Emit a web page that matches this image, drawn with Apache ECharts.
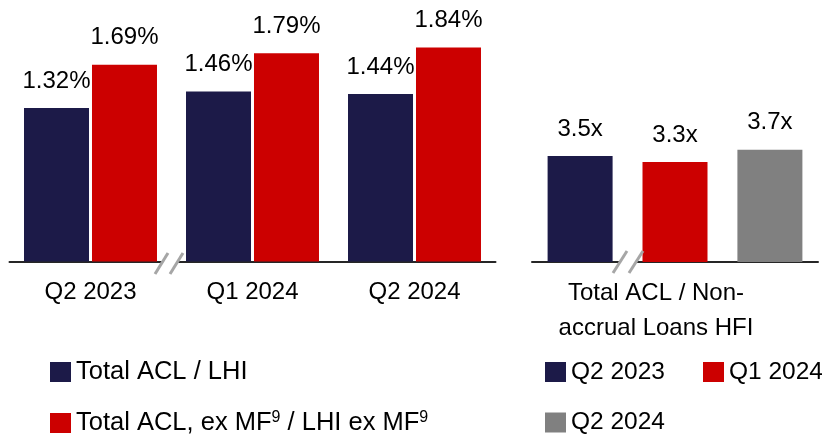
<!DOCTYPE html>
<html>
<head>
<meta charset="utf-8">
<script src="https://cdn.jsdelivr.net/npm/echarts@6/dist/echarts.min.js"></script>
<style>
html,body{margin:0;padding:0;background:#fff;}
#c{width:822px;height:439px;}
</style>
</head>
<body>
<div id="c"></div>
<script>
const categories = ['Q2 2023', 'Q1 2024', 'Q2 2024'];
const aclLhi = [1.32, 1.46, 1.44];
const aclExMf = [1.69, 1.79, 1.84];
const coverageCategory = ['Total ACL / Non-\naccrual Loans HFI'];
const coverageQ2_2023 = [3.5];
const coverageQ1_2024 = [3.3];
const coverageQ2_2024 = [3.7];
const leftNames = ['Total ACL / LHI', 'Total ACL, ex MF⁹ / LHI ex MF⁹'];
const rightNames = ['Q2 2023', 'Q1 2024', 'Q2 2024'];

const NAVY = '#1c1a48', RED = '#cc0000', GRAY = '#808080';
const FONT = '"Liberation Sans", Arial, sans-serif';

const chart = echarts.init(document.getElementById('c'), null, {renderer: 'canvas'});

const labelPct = {show: true, position: 'top', distance: 15, fontSize: 24, fontFamily: FONT, color: '#000',
  formatter: p => p.value.toFixed(2) + '%'};
const labelX = {show: true, position: 'top', distance: 15, fontSize: 24, fontFamily: FONT, color: '#000',
  formatter: p => p.value.toFixed(1) + 'x'};

function brk(xb1, xt1, xb2, xt2, yb, yt, yAxis) {
  const t0 = (yb - (yAxis - 3)) / (yb - yt), t1 = (yb - (yAxis + 3)) / (yb - yt);
  const lx = (xb, xt, t) => xb + (xt - xb) * t;
  return [
    {type: 'polygon', z: 100, shape: {points: [
      [lx(xb1, xt1, t0), yAxis - 3], [lx(xb2, xt2, t0), yAxis - 3],
      [lx(xb2, xt2, t1), yAxis + 3], [lx(xb1, xt1, t1), yAxis + 3]]}, style: {fill: '#fff'}},
    {type: 'line', z: 101, shape: {x1: xb1, y1: yb, x2: xt1, y2: yt}, style: {stroke: '#a6a6a6', lineWidth: 3}},
    {type: 'line', z: 101, shape: {x1: xb2, y1: yb, x2: xt2, y2: yt}, style: {stroke: '#a6a6a6', lineWidth: 3}}
  ];
}

function legendItem(name, left, top, size) {
  return {data: [name], left: left, top: top, padding: 0, itemWidth: 21, itemHeight: 20,
    icon: 'rect', selectedMode: false,
    textStyle: {fontSize: size, fontFamily: FONT, color: '#000',
      rich: {sup: {fontSize: 16, fontFamily: FONT, color: '#000', verticalAlign: 'top'}}},
    formatter: n => n.replace(/⁹/g, '{sup|9}')};
}

const option = {
  animation: false,
  backgroundColor: '#fff',
  grid: [
    {left: 9.5, width: 486, top: 5.5, height: 256},
    {left: 532, width: 286, top: 19.5, height: 242.5}
  ],
  xAxis: [
    {type: 'category', gridIndex: 0, data: categories,
      axisLine: {lineStyle: {color: '#262626', width: 2}}, axisTick: {show: false},
      axisLabel: {fontSize: 24, fontFamily: FONT, color: '#000', margin: 19}},
    {type: 'category', gridIndex: 1, data: coverageCategory,
      axisLine: {lineStyle: {color: '#262626', width: 2}}, axisTick: {show: false},
      axisLabel: {fontSize: 24, fontFamily: FONT, color: '#000', margin: 14, lineHeight: 35,
        padding: [0, 38, 0, 0]}}
  ],
  yAxis: [
    {type: 'value', gridIndex: 0, min: 0, max: 2.2, show: false},
    {type: 'value', gridIndex: 1, min: 0, max: 8, show: false}
  ],
  legend: [
    legendItem(leftNames[0], 50, 359, 25.5),
    legendItem(leftNames[1], 50, 410, 25.5),
    legendItem(rightNames[0], 545, 359.5, 24.5),
    legendItem(rightNames[1], 703, 359.5, 24.5),
    legendItem(rightNames[2], 545, 410, 24.5)
  ],
  series: [
    {name: leftNames[0], type: 'bar', xAxisIndex: 0, yAxisIndex: 0, data: aclLhi, barWidth: 65, barGap: '4.6%',
      itemStyle: {color: NAVY}, label: labelPct},
    {name: leftNames[1], type: 'bar', xAxisIndex: 0, yAxisIndex: 0, data: aclExMf, barWidth: 65, barGap: '4.6%',
      itemStyle: {color: RED}, label: labelPct},
    {name: rightNames[0], type: 'bar', xAxisIndex: 1, yAxisIndex: 1, data: coverageQ2_2023, barWidth: 65, barGap: '46%',
      itemStyle: {color: NAVY}, label: labelX},
    {name: rightNames[1], type: 'bar', xAxisIndex: 1, yAxisIndex: 1, data: coverageQ1_2024, barWidth: 65, barGap: '46%',
      itemStyle: {color: RED}, label: labelX},
    {name: rightNames[2], type: 'bar', xAxisIndex: 1, yAxisIndex: 1, data: coverageQ2_2024, barWidth: 65, barGap: '46%',
      itemStyle: {color: GRAY}, label: labelX}
  ],
  graphic: [].concat(
    brk(155, 168, 170, 183, 274, 253, 261.5),
    brk(613, 627, 629, 643, 273, 251, 262)
  )
};
chart.setOption(option);
</script>
</body>
</html>
